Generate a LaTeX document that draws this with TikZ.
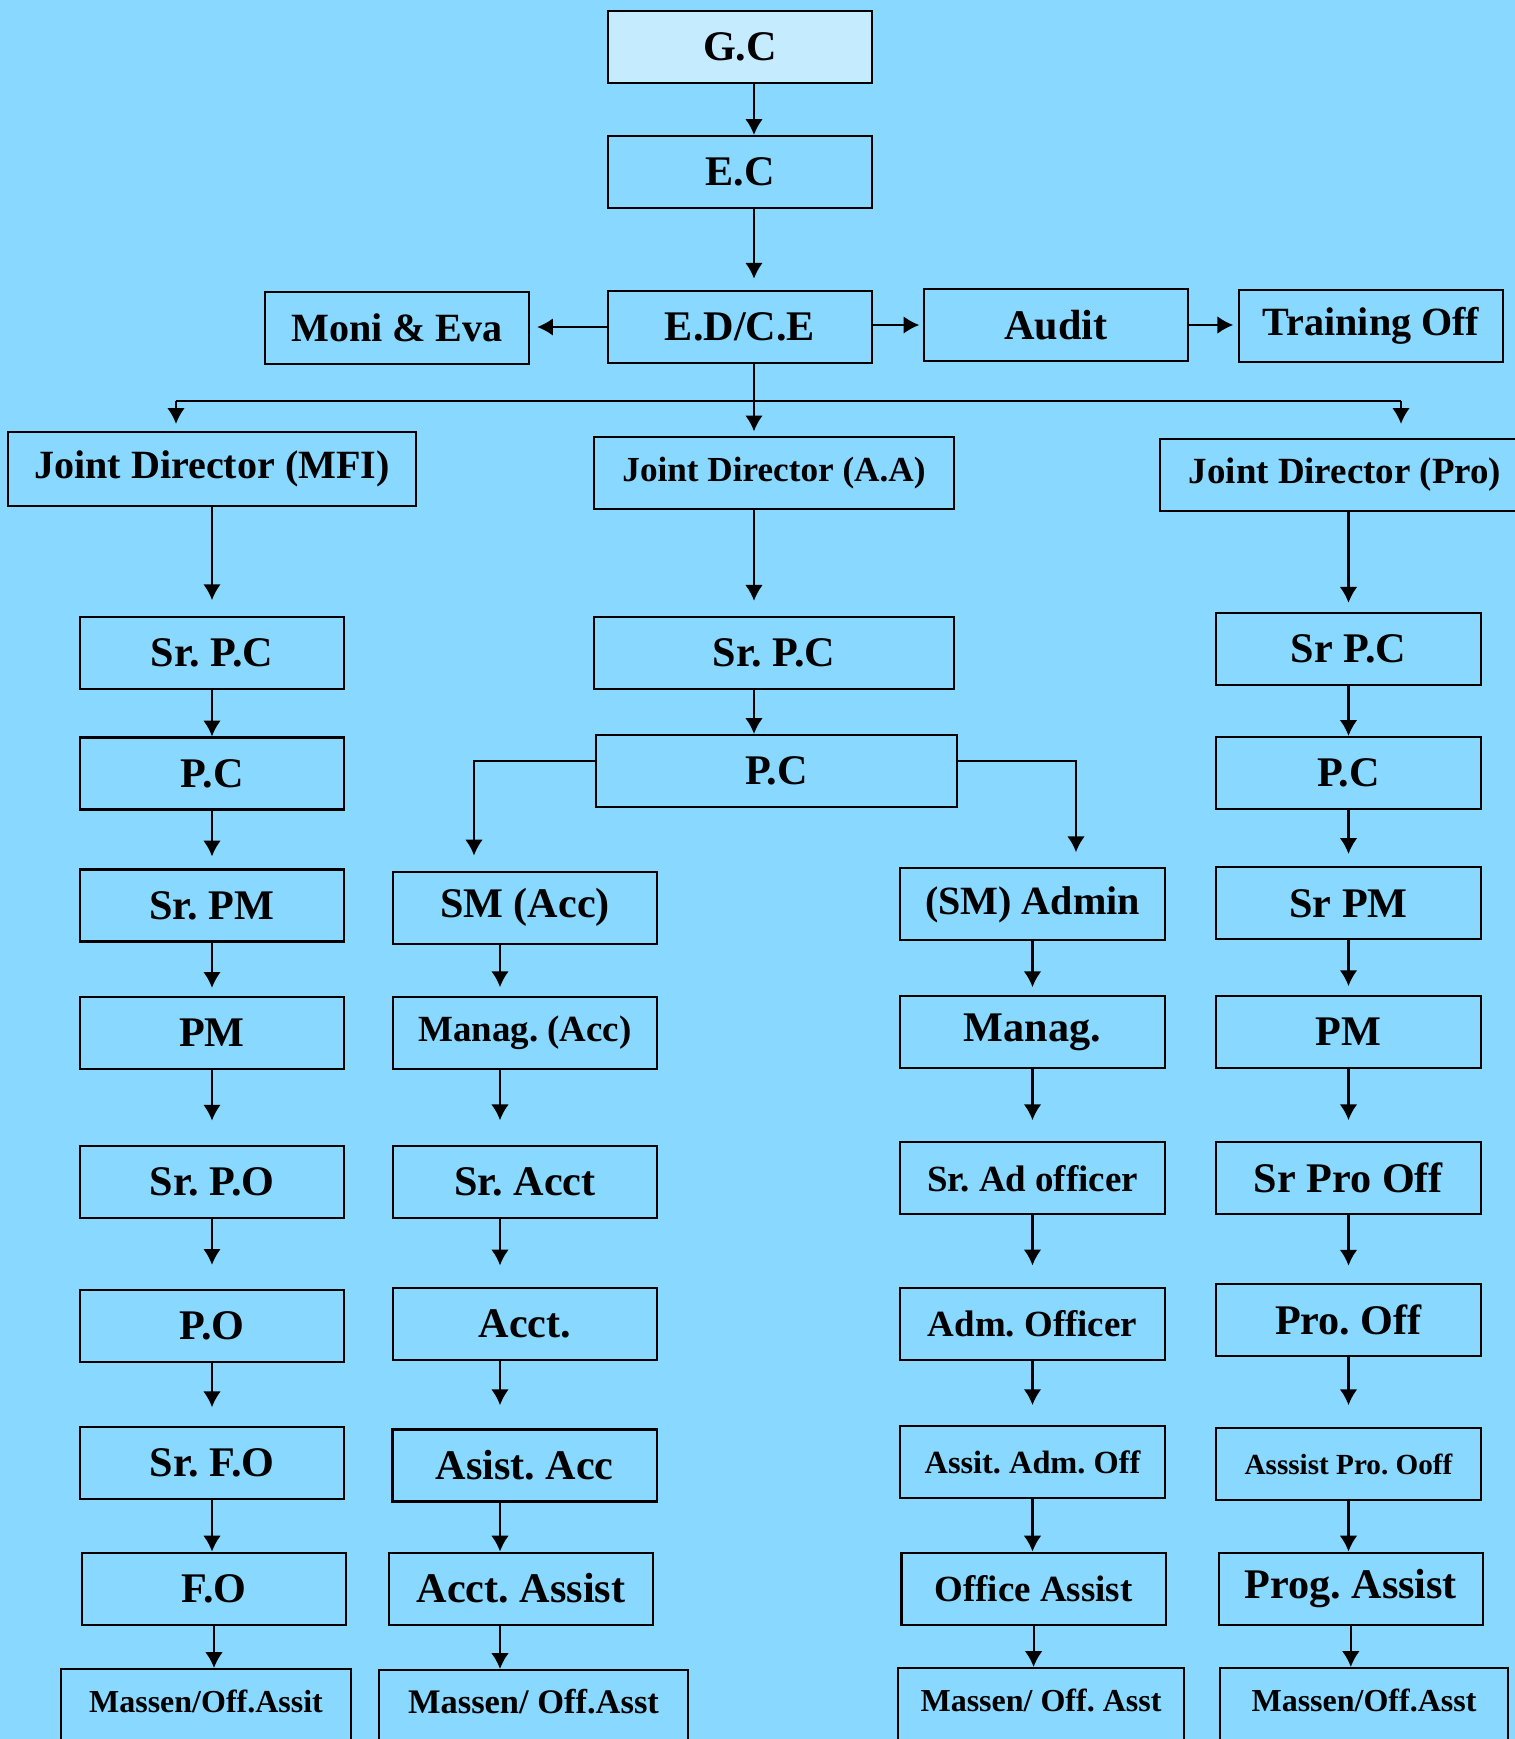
\documentclass[tikz,border=0pt]{standalone}
\usepackage{fontspec}
\setmainfont{Liberation Serif}
\usetikzlibrary{arrows.meta}
\frenchspacing

\definecolor{skyback}{RGB}{136,216,255}
\definecolor{topfill}{RGB}{197,235,255}

\tikzset{
  box/.style={draw, line width=0.6pt, inner sep=0pt,
    minimum width=2.64cm, minimum height=0.72cm,
    font=\bfseries\fontsize{12}{14}\selectfont},
  fnear/.style={font=\bfseries\fontsize{11.4}{13}\selectfont},
  ften/.style={font=\bfseries\fontsize{10}{12}\selectfont},
  fmid/.style={font=\bfseries\fontsize{10.5}{12}\selectfont},
  fsmall/.style={font=\bfseries\fontsize{9.2}{11}\selectfont},
  fxsmall/.style={font=\bfseries\fontsize{8.3}{10}\selectfont},
  massen/.style={box, anchor=north, minimum height=0pt,
    text height=0.43cm, text depth=0.5cm,
    font=\bfseries\fontsize{9.1}{11}\selectfont},
  arr/.style={-{Latex[length=4.5pt,width=5pt]}, line width=0.6pt}
}

\begin{document}
\begin{tikzpicture}[x=0.01cm, y=-0.01cm]

\useasboundingbox (0,0) rectangle (1515,1739);
\fill[skyback] (0,0) rectangle (1515,1739);

% Top
\node[box, fill=topfill] (gc) at (740,47) {G.C};
\node[box] (ec) at (740,172) {E.C};
\node[box] (ed) at (740,327) {E.D/C.E};
\node[box, fnear] (moni) at (397,328) {Moni \& Eva};
\node[box] (audit) at (1056,325) {Audit};
\node[box, fnear] (train) at (1371,326) {Training Off};

% Joint directors
\node[box, fnear, minimum width=4.08cm, minimum height=0.74cm] (jdm) at (212,469) {Joint Director (MFI)};
\node[box, ften, minimum width=3.6cm] (jdaa) at (774,473) {Joint Director (A.A)};
\node[box, fmid, minimum width=3.7cm] (jdp) at (1345,475) {Joint Director (Pro)};

% MFI column
\node[box] (m1) at (212,653) {Sr. P.C};
\node[box] (m2) at (212,773.5) {P.C};
\node[box] (m3) at (212,905.5) {Sr. PM};
\node[box] (m4) at (212,1033) {PM};
\node[box] (m5) at (212,1181.6) {Sr. P.O};
\node[box] (m6) at (212,1325.8) {P.O};
\node[box] (m7) at (212,1463.3) {Sr. F.O};
\node[box] (m8) at (214,1588.6) {F.O};
\node[massen, minimum width=2.9cm] (m9) at (206,1668) {Massen/Off.Assit};

% A.A column
\node[box, minimum width=3.6cm] (asr) at (774,653) {Sr. P.C};
\node[box, minimum width=3.6cm] (apc) at (776.5,771) {P.C};

% Accounts
\node[box] (s1) at (525,907.7) {SM (Acc)};
\node[box, fmid] (s2) at (525,1033) {Manag. (Acc)};
\node[box] (s3) at (525,1181.6) {Sr. Acct};
\node[box] (s4) at (525,1323.6) {Acct.};
\node[box] (s5) at (524.6,1465.5) {Asist. Acc};
\node[box] (s6) at (521,1588.6) {Acct. Assist};
\node[massen, minimum width=3.08cm, font=\bfseries\fontsize{9.8}{11}\selectfont] (s7) at (533.5,1669) {Massen/ Off.Asst};

% Admin
\node[box, fnear] (d1) at (1032.5,904.4) {(SM) Admin};
\node[box] (d2) at (1032.5,1032) {Manag.};
\node[box, fmid] (d3) at (1032.5,1178.3) {Sr. Ad officer};
\node[box, fmid] (d4) at (1032.5,1323.6) {Adm. Officer};
\node[box, fsmall] (d5) at (1032.5,1462.2) {Assit. Adm. Off};
\node[box, fmid] (d6) at (1033.6,1588.6) {Office Assist};
\node[massen, minimum width=2.85cm] (d7) at (1041,1667) {Massen/ Off. Asst};

% Pro column
\node[box] (p1) at (1348.5,649) {Sr P.C};
\node[box] (p2) at (1348.5,773) {P.C};
\node[box] (p3) at (1348.5,903.3) {Sr PM};
\node[box] (p4) at (1348.5,1032) {PM};
\node[box] (p5) at (1348.5,1178.3) {Sr Pro Off};
\node[box] (p6) at (1348.5,1320.3) {Pro. Off};
\node[box, fxsmall] (p7) at (1348.5,1464.4) {Asssist Pro. Ooff};
\node[box] (p8) at (1350.8,1588.6) {Prog. Assist};
\node[massen, minimum width=2.88cm] (p9) at (1364,1667) {Massen/Off.Asst};

% Spine and bus
\coordinate (spine) at (754,0);
\coordinate (accx) at (500,0);
\coordinate (busL) at (176,401);
\coordinate (busR) at (1401,401);
\coordinate (brL) at (474,761);
\coordinate (brR) at (1076,761);

\draw[arr] (gc.south -| spine) -- (ec.north -| spine);
\draw[arr, shorten >=3.2pt] (ec.south -| spine) -- (ed.north -| spine);
\draw[arr, shorten >=2pt] (ed.west) -- (moni.east |- ed.west);
\draw[arr, shorten >=1pt] (ed.east |- audit.west) -- (audit.west);
\draw[arr, shorten >=1.3pt] (audit.east) -- (train.west |- audit.east);

\draw[arr, shorten >=1.3pt] (ed.south -| spine) -- (jdaa.north -| spine);
\draw[line width=0.6pt] (busL) -- (busR);
\draw[arr, shorten >=2pt] (busL) -- (busL |- jdm.north);
\draw[arr, shorten >=4pt] (busR) -- (busR |- jdp.north);

\draw[arr, shorten >=4.5pt] (jdm.south -| m1.north) -- (m1.north);
\draw[arr, shorten >=4.3pt] (jdaa.south -| spine) -- (asr.north -| spine);
\draw[arr] (asr.south -| spine) -- (apc.north -| spine);
\draw[arr, shorten >=2.6pt] (jdp.south -| p1.north) -- (p1.north);

% Branches under P.C
\draw[arr, shorten >=4.3pt] (apc.west |- brL) -- (brL) -- (brL |- s1.north);
\draw[arr, shorten >=4.3pt] (apc.east |- brR) -- (brR) -- (brR |- d1.north);

% Chains
\foreach \a/\b/\g in {m1/m2/0pt,m2/m3/3.4pt,m3/m4/2.3pt,m4/m5/6.8pt,m5/m6/6.8pt,m6/m7/5.4pt,m7/m8/0pt,m8/m9/0pt,
    d1/d2/2.2pt,d2/d3/6pt,d3/d4/6pt,d4/d5/5.7pt,d5/d6/0pt,d6/d7/0pt,
    p1/p2/0pt,p2/p3/3.5pt,p3/p4/2.5pt,p4/p5/6pt,p5/p6/5pt,p6/p7/6.3pt,p7/p8/0pt,p8/p9/0pt}
  \draw[arr, shorten >=\g] (\a.south) -- (\a.south |- \b.north);
\foreach \a/\b/\g in {s1/s2/2.5pt,s2/s3/6.9pt,s3/s4/6pt,s4/s5/6.6pt,s5/s6/0pt,s6/s7/0pt}
  \draw[arr, shorten >=\g] (\a.south -| accx) -- (\b.north -| accx);

\end{tikzpicture}
\end{document}
